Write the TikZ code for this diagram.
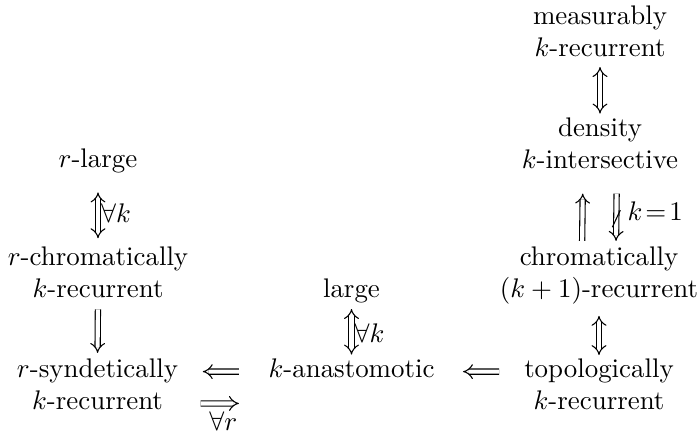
\documentclass[tikz,border=0pt]{standalone}
\usetikzlibrary{arrows.meta}
\tikzset{
  lbl/.style={align=center, inner sep=0pt},
  dimp/.style={double equal sign distance, -{Implies}},
  dboth/.style={double equal sign distance, {Implies}-{Implies}},
}
\begin{document}
\begin{tikzpicture}[x=0.3717pt, y=-0.3717pt]
\useasboundingbox (0,0) rectangle (699,437);
% nodes
\node[lbl, anchor=north] (M) at (600,5.3) {measurably\\$k$-recurrent};
\node[lbl, anchor=north] (D) at (600,117.3) {density\\$k$-intersective};
\node[lbl, anchor=base] (RL) at (98,167) {$r$-large};
\node[lbl, anchor=north] (RC) at (98,246.3) {$r$-chromatically\\$k$-recurrent};
\node[lbl, anchor=north] (C) at (599,246.3) {chromatically\\$(k+1)$-recurrent};
\node[lbl, anchor=base] (L) at (351.5,297) {large};
\node[lbl, anchor=north] (RS) at (97.5,358.3) {$r$-syndetically\\$k$-recurrent};
\node[lbl, anchor=base] (A) at (351.5,377) {$k$-anastomotic};
\node[lbl, anchor=north] (T) at (599,358.3) {topologically\\$k$-recurrent};
% vertical arrows
\draw[dboth, shorten <=3.5pt, shorten >=1.4pt] (M.south) -- (D.north);
\draw[dimp, shorten <=2pt, shorten >=8.9pt] ([xshift=-6.3pt]C.north) -- ([xshift=-6.3pt]D.south);
\draw[dimp, shorten <=8.9pt, shorten >=2pt] ([xshift=6.3pt]D.south) -- coordinate[pos=0.64] (X) ([xshift=6.3pt]C.north);
\draw ([shift={(-4,8.5)}]X) -- ([shift={(4,-8.5)}]X);
\node[lbl, anchor=base west] (K1) at ([xshift=4pt,yshift=-0.8pt]X) {$k\mkern2mu{=}\mkern2mu1$};
\draw[dboth, shorten <=7.2pt, shorten >=3pt] (RL.south) -- node[pos=0.55, right, inner sep=1pt] (FK1) {$\forall k$} (RC.north);
\draw[dimp, shorten <=4pt, shorten >=2pt] (RC.south) -- (RS.north);
\draw[dboth, shorten <=2.2pt, shorten >=1.2pt] (L.south) -- node[pos=0.55, right, inner sep=1pt] (FK2) {$\forall k$} (A.north);
\draw[dboth, shorten <=4pt, shorten >=1.2pt] (C.south) -- (T.north);
% horizontal arrows
\draw[dimp, shorten <=10.8pt, shorten >=9pt] ([yshift=2pt]A.base west) -- ([yshift=-4.94pt]RS.north east);
\draw[dimp, shorten <=8.2pt, shorten >=10.8pt] ([yshift=-16.8pt]RS.north east) -- node[below, inner sep=3pt] (FR) {$\forall r$} ([yshift=-9.8pt]A.base west);
\draw[dimp, shorten <=9.1pt, shorten >=10.4pt] ([yshift=-4.94pt]T.north west) -- ([yshift=2pt]A.base east);
\end{tikzpicture}
\end{document}
